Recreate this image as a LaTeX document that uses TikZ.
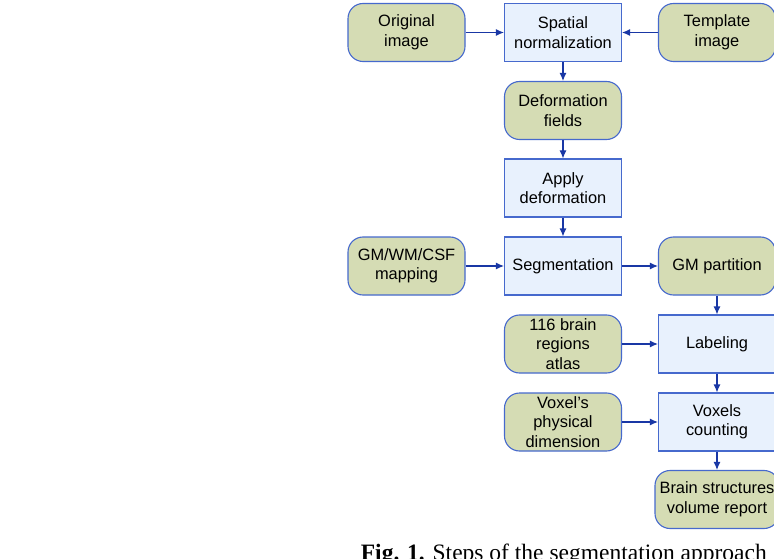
\documentclass[tikz,border=0pt]{standalone}
\usepackage{fontspec}
\setmainfont{Liberation Sans}
\newfontfamily\capfont{Liberation Serif}
\usetikzlibrary{arrows.meta,positioning,calc}
\definecolor{boxgreen}{RGB}{213,220,180}
\definecolor{boxblue}{RGB}{232,241,253}
\definecolor{edgeblue}{RGB}{70,105,205}
\definecolor{arrowblue}{RGB}{25,55,165}
\tikzset{
  datum/.style={draw=edgeblue,fill=boxgreen,line width=1.1pt,rounded corners=15pt,
    minimum width=117pt,minimum height=58pt,inner sep=0pt,align=center,
    font=\fontsize{16.4}{19.5}\selectfont},
  process/.style={draw=edgeblue,fill=boxblue,line width=1.1pt,sharp corners,
    minimum width=117pt,minimum height=58pt,inner sep=0pt,align=center,
    font=\fontsize{16.4}{19.5}\selectfont},
  flow/.style={draw=arrowblue,line width=1.1pt,-{Latex[length=8pt,width=7pt]}}
}
\begin{document}
\begin{tikzpicture}[x=1pt,y=-1pt]
        % page frame
        \clip (0,0) rectangle (774,559);
        \fill[white] (0,0) rectangle (774,559);
        % inputs and steps
        \node[datum] (orig) at (406.5,32.5) {Original\\image};
        \node[process] (spatial) at (563,32.5) {Spatial\\normalization};
        \node[datum] (templ) at (717,32.5) {Template\\image};
        \node[datum] (deform) at (563,110.5) {Deformation\\fields};
        \node[process] (apply) at (563,188) {Apply\\deformation};
        \node[datum] (tissue) at (406.5,266) {GM/WM/CSF\\mapping};
        \node[process] (segm) at (563,266) {Segmentation};
        \node[datum] (gmpart) at (717,266) {GM partition};
        \node[datum] (atlas) at (563,344) {116 brain\\regions\\atlas};
        \node[process] (label) at (717,344) {Labeling};
        \node[datum] (voxdim) at (563,422) {Voxel’s\\physical\\dimension};
        \node[process] (count) at (717,422) {Voxels\\counting};
        \node[datum,minimum width=124pt] (report) at (717,499.5) {Brain structures\\volume report};
        % connectors
        \draw[flow] (orig) -- (spatial);
        \draw[flow] (templ) -- (spatial);
        \draw[flow] (spatial) -- (deform);
        \draw[flow] (deform) -- (apply);
        \draw[flow] (apply) -- (segm);
        \draw[flow] (tissue) -- (segm);
        \draw[flow] (segm) -- (gmpart);
        \draw[flow] (gmpart) -- (label);
        \draw[flow] (atlas) -- (label);
        \draw[flow] (label) -- (count);
        \draw[flow] (voxdim) -- (count);
        \draw[flow] (count) -- (report);
        % caption
        \node[anchor=base east,inner sep=0pt,font=\capfont\fontsize{23.5}{28}\selectfont] (caption) at (767,560)
          {\textbf{Fig. 1.} Steps of the segmentation approach};
\end{tikzpicture}
\end{document}
